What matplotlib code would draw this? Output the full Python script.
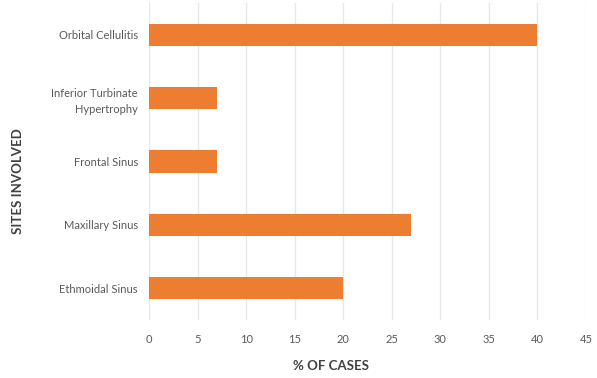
import matplotlib.pyplot as plt

sites = ["Ethmoidal Sinus", "Maxillary Sinus", "Frontal Sinus",
         "Inferior Turbinate\nHypertrophy", "Orbital Cellulitis"]
percent = [20, 27, 7, 7, 40]
xticks = [0, 5, 10, 15, 20, 25, 30, 35, 40, 45]

plt.rcParams['font.family'] = ['Lato', 'DejaVu Sans']

fig = plt.figure(figsize=(5.97, 3.78), dpi=100)
ax = fig.add_axes([0.2496, 0.1534, 0.732, 0.8386])

ax.barh(range(len(sites)), percent, height=0.35, color="#ED7D31", zorder=3)
ax.set_ylim(-0.5, len(sites) - 0.5)
ax.set_xlim(0, 45)
ax.set_xticks(xticks)
ax.set_yticks(range(len(sites)))
ax.set_yticklabels(sites, fontsize=8, color="#595959", linespacing=1.5)
ax.tick_params(axis='x', labelsize=8, labelcolor="#595959", length=0, pad=10)
ax.tick_params(axis='y', length=0, pad=8)
ax.grid(axis='x', color="#e6e6e6", linewidth=0.9, zorder=0)
for s in ax.spines.values():
    s.set_visible(False)

ax.set_xlabel("% OF CASES", fontsize=9.5, fontweight='bold', color="#404040")
ax.xaxis.set_label_coords(0.416, -0.125)
fig.text(0.03, 0.52, "SITES INVOLVED", rotation=90, fontsize=9.5, fontweight='bold',
         color="#404040", ha='center', va='center')

fig.savefig("out.png", dpi=100)
